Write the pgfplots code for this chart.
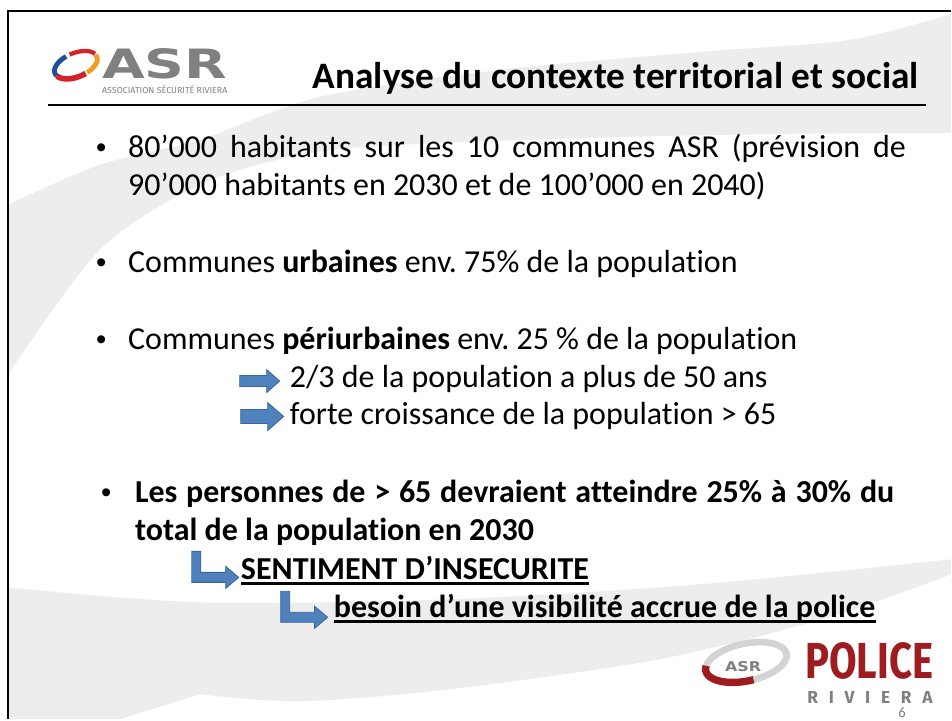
\documentclass[border=0pt]{standalone}
\usepackage{fontspec}
\setmainfont{Carlito}[Ligatures=NoCommon]
\newfontfamily\logofont{DejaVu Sans}
\newfontfamily\policefont{Fira Sans}
\newfontfamily\arial{Liberation Sans}
\usepackage{graphicx}
\usepackage{pgfplots}
\pgfplotsset{compat=1.18}
\usetikzlibrary{calc}
\frenchspacing
\definecolor{bggrey}{HTML}{EDEDED}
\definecolor{arrowblue}{HTML}{4F81BD}
\definecolor{arrowedge}{HTML}{3A6597}
\definecolor{asrgrey}{HTML}{808080}
\definecolor{asrred}{HTML}{D2232A}
\definecolor{asrblue}{HTML}{1F4E9C}
\definecolor{asrorange}{HTML}{F39C1E}
\definecolor{policered}{HTML}{9E1B20}
\definecolor{ringgrey}{HTML}{D3D3D3}
\newcommand{\body}{\fontsize{24bp}{29bp}\selectfont}
\newcommand{\bodyb}{\fontsize{24bp}{29bp}\selectfont\bfseries}
\newcommand{\bul}{\fontsize{22bp}{24bp}\arial}

\begin{document}
\begin{tikzpicture}
\begin{axis}[
  hide axis, scale only axis,
  width=714bp, height=540bp,
  xmin=0, xmax=952, ymin=0, ymax=720,
  y dir=reverse, clip=false,
]
% slide background (pixel coordinates, y down)
\fill[white] (0,0) rectangle (952,720);
\fill[bggrey] plot[smooth] coordinates {(8,205) (100,165) (200,140) (320,97) (500,70) (700,52) (850,40) (952,14)}
  -- plot[smooth] coordinates {(952,133) (800,134) (630,137) (400,145) (300,155) (200,185) (100,250) (8,375)} -- cycle;
\fill[bggrey] plot[smooth] coordinates {(8,588) (200,603) (450,600) (700,585) (952,560)}
  -- plot[smooth] coordinates {(952,575) (830,618) (660,660) (450,690) (300,702) (200,695)} -- (120,720) -- (8,720) -- cycle;
\draw[line width=1.6bp] (8,720) -- (8,11) -- (952,11);

% ASR logo, top left
\begin{scope}[shift={(76,65)}, rotate=22]
  \draw[asrblue, line width=3.6bp] (105:17bp and 9bp) arc[start angle=105, end angle=195, x radius=17bp, y radius=9bp];
  \draw[asrred, line width=4.2bp] (195:17bp and 9bp) arc[start angle=195, end angle=285, x radius=17bp, y radius=9bp];
  \draw[asrorange, line width=3.6bp] (290:17bp and 9bp) arc[start angle=290, end angle=370, x radius=17bp, y radius=9bp];
  \draw[asrred, line width=3.2bp] (15:17bp and 9bp) arc[start angle=15, end angle=95, x radius=17bp, y radius=9bp];
\end{scope}
\node[anchor=south west, inner sep=0, text=asrgrey] at (102,79) {\resizebox{94bp}{22.5bp}{\logofont\bfseries ASR}};
\node[anchor=south west, inner sep=0, text=asrgrey] at (102,94) {\resizebox{94bp}{6bp}{\policefont ASSOCIATION SÉCURITÉ RIVIERA}};

% title
\node[anchor=base west, inner sep=0, font=\fontsize{28bp}{34bp}\selectfont\bfseries] at (313,89) {Analyse du contexte territorial et social};
\draw[line width=1.8bp] (48,105) -- (927,105);

% bullets
\node[anchor=base west, inner sep=0, font=\bul] at (96,158) {•};
\node[anchor=base west, inner sep=0, font=\body] at (128,158) {\makebox[584bp][s]{80’000 habitants sur les 10 communes ASR (prévision de}};
\node[anchor=base west, inner sep=0, font=\body] at (128,196) {90’000 habitants en 2030 et de 100’000 en 2040)};

\node[anchor=base west, inner sep=0, font=\bul] at (96,273) {•};
\node[anchor=base west, inner sep=0, font=\body] at (128,273) {Communes \textbf{urbaines} env. 75\% de la population};

\node[anchor=base west, inner sep=0, font=\bul] at (96,350) {•};
\node[anchor=base west, inner sep=0, font=\body] at (128,350) {Communes \textbf{périurbaines} env. 25 \% de la population};

\filldraw[fill=arrowblue, draw=arrowedge, line width=0.6bp] (240,376) -- (267,376) -- (267,370) -- (280,381.5) -- (267,393) -- (267,387) -- (240,387) -- cycle;
\node[anchor=base west, inner sep=0, font=\body] at (290,388) {2/3 de la population a plus de 50 ans};
\filldraw[fill=arrowblue, draw=arrowedge, line width=0.6bp] (241,410) -- (268,410) -- (268,403) -- (284,417) -- (268,431) -- (268,424) -- (241,424) -- cycle;
\node[anchor=base west, inner sep=0, font=\body] at (290,425) {forte croissance de la population > 65};

\node[anchor=base west, inner sep=0, font=\bul] at (101,503) {•};
\node[anchor=base west, inner sep=0, font=\bodyb] at (135,503) {\makebox[570bp][s]{Les personnes de > 65 devraient atteindre 25\% à 30\% du}};
\node[anchor=base west, inner sep=0, font=\bodyb] at (135,541) {total de la population en 2030};

\filldraw[fill=arrowblue, draw=arrowedge, line width=0.6bp] (192,552) -- (201,552) -- (201,573) -- (226,573) -- (226,567) -- (239,578) -- (226,589) -- (226,583) -- (192,583) -- cycle;
\node[anchor=base west, inner sep=0, font=\bodyb] (s1) at (241,580) {SENTIMENT D’INSECURITE};
\draw[line width=1.9bp] ($(s1.base west)+(0,-3bp)$) -- ($(s1.base east)+(0,-3bp)$);
\filldraw[fill=arrowblue, draw=arrowedge, line width=0.6bp] (281,592) -- (290,592) -- (290,613) -- (315,613) -- (315,607) -- (328,618) -- (315,629) -- (315,623) -- (281,623) -- cycle;
\node[anchor=base west, inner sep=0, font=\bodyb] (s2) at (334,618) {besoin d’une visibilité accrue de la police};
\draw[line width=1.9bp] ($(s2.base west)+(0,-3bp)$) -- ($(s2.base east)+(0,-3bp)$);

% Police Riviera logo, bottom right
\begin{scope}[shift={(747,663)}, rotate=12]
  \draw[ringgrey, line width=5bp] (0,0) ellipse[x radius=31bp, y radius=14bp];
  \draw[policered, line width=5.5bp] (165:31bp and 14bp) arc[start angle=165, end angle=275, x radius=31bp, y radius=14bp];
\end{scope}
\node[anchor=center, inner sep=0, text=asrgrey] at (744,667) {\resizebox{27bp}{7.5bp}{\logofont\bfseries ASR}};
\node[anchor=south west, inner sep=0, text=policered] at (806,680) {\resizebox{96bp}{27bp}{\policefont\bfseries POLICE}};
\node[anchor=base west, inner sep=0, text=asrgrey, font=\fontsize{13bp}{14bp}\policefont\bfseries] at (808,704) {\makebox[94bp]{R\hfill I\hfill V\hfill I\hfill E\hfill R\hfill A}};
\node[anchor=base, inner sep=0, text=gray, font=\fontsize{11bp}{12bp}\selectfont] at (903,718) {6};
\end{axis}
\end{tikzpicture}
\end{document}
